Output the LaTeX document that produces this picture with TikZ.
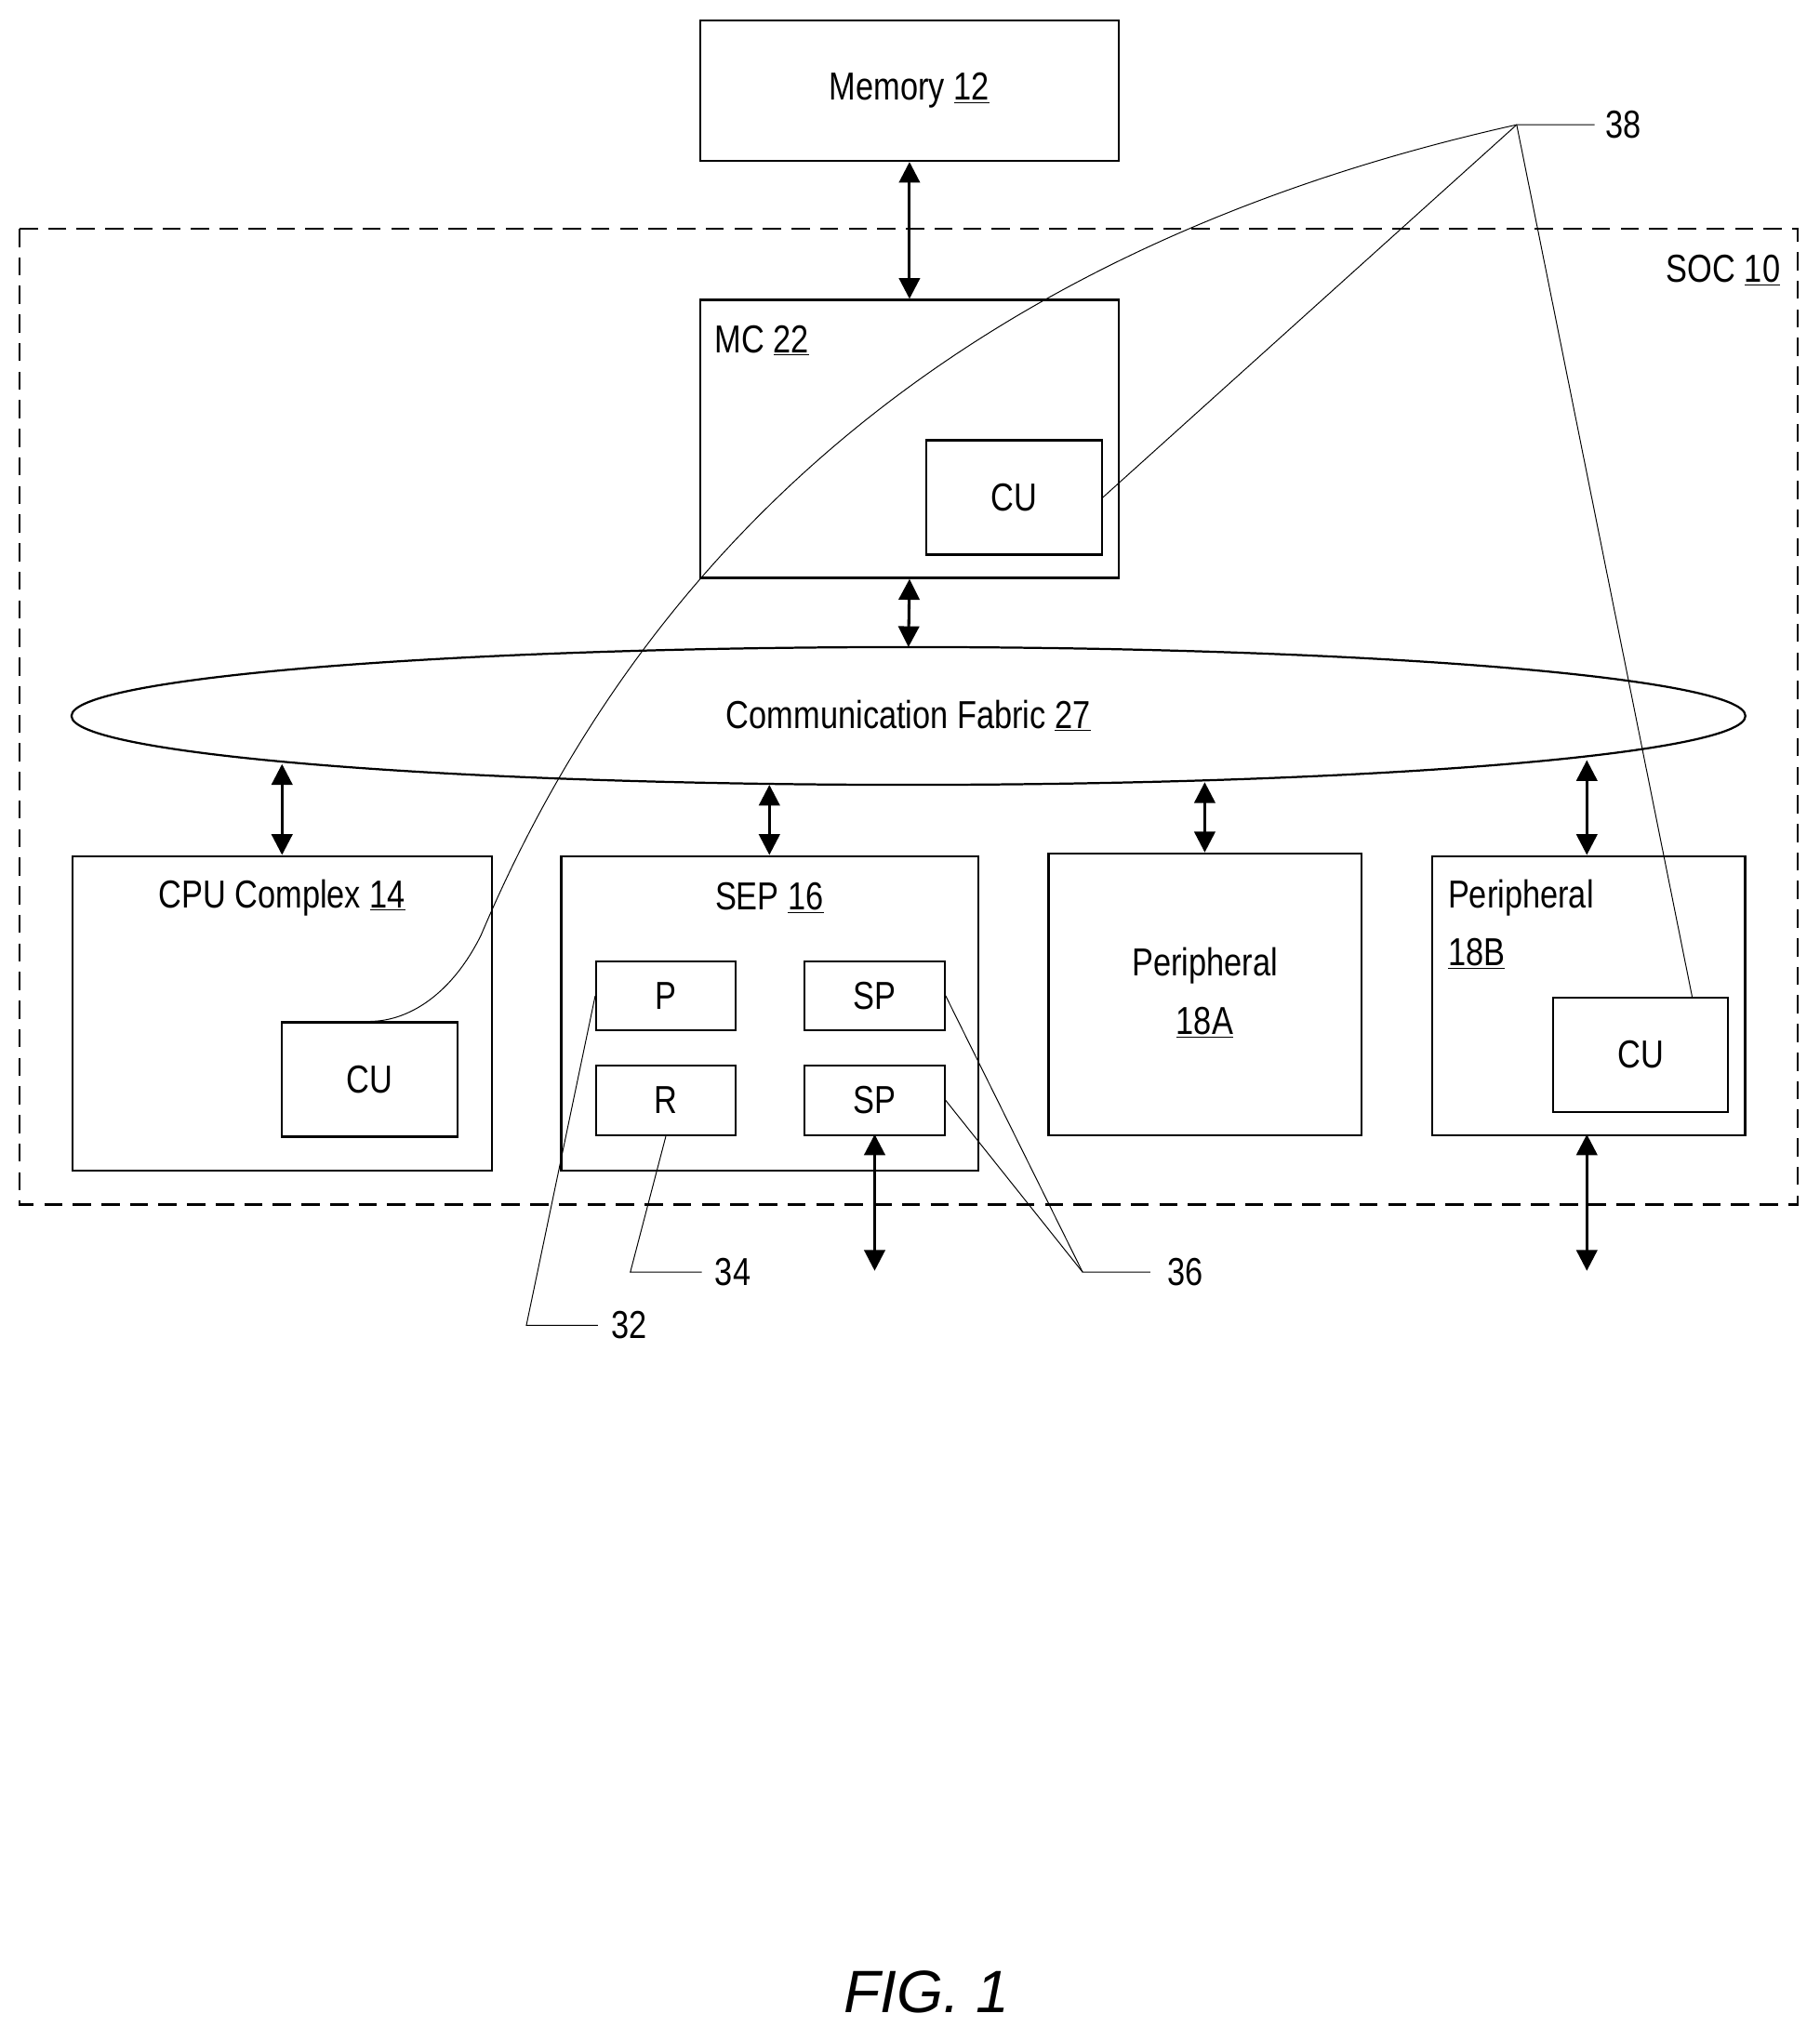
\documentclass[tikz,border=0pt]{standalone}
\usepackage{fontspec}
\setmainfont{Liberation Sans}[FakeStretch=0.82]
\newfontfamily\figfont{Liberation Sans}
\usetikzlibrary{arrows.meta,shapes.geometric}
\begin{document}
\begin{tikzpicture}[x=1pt,y=-1pt,
 box/.style={draw,line width=1.6pt},
 lbl/.style={font=\fontsize{30}{34}\selectfont,inner sep=0pt},
 arr/.style={line width=2.2pt,{Triangle[length=16pt,width=16pt]}-{Triangle[length=16pt,width=16pt]}},
 lead/.style={line width=0.7pt}]
\useasboundingbox (0,0) rectangle (1400,1570);
\draw[line width=1.6pt,dash pattern=on 14pt off 8pt] (15,176) rectangle (1383,927);
\node[lbl,anchor=east] (soc) at (1370,208) {SOC \underline{10}};
\node[box,minimum width=322pt,minimum height=108pt,anchor=north west] (mem) at (538,15) {};
\node[lbl] at (mem) {Memory \underline{12}};
\node[box,minimum width=322pt,minimum height=214pt,anchor=north west] (mc) at (538,230) {};
\node[lbl,anchor=west] at (550,262) {MC \underline{22}};
\node[box,minimum width=135pt,minimum height=88pt,anchor=north west,lbl] (cumc) at (712,338) {CU};
\node[draw,line width=1.6pt,ellipse,minimum width=1288pt,minimum height=106pt,inner sep=0pt] (fab) at (699,551) {};
\node[lbl] at (699,551) {Communication Fabric \underline{27}};
\node[box,minimum width=323pt,minimum height=242pt,anchor=north west] (cpu) at (55,658) {};
\node[lbl] at (217,691) {CPU Complex \underline{14}};
\node[box,minimum width=135pt,minimum height=88pt,anchor=north west,lbl] (cucpu) at (216,786) {CU};
\node[box,minimum width=321pt,minimum height=242pt,anchor=north west] (sep) at (431,658) {};
\node[lbl] at (592,691) {SEP \underline{16}};
\node[box,minimum width=107pt,minimum height=53pt,anchor=north west,lbl] (p) at (458,739) {P};
\node[box,minimum width=108pt,minimum height=53pt,anchor=north west,lbl] (sp1) at (618,739) {SP};
\node[box,minimum width=107pt,minimum height=54pt,anchor=north west,lbl] (r) at (458,819) {R};
\node[box,minimum width=108pt,minimum height=54pt,anchor=north west,lbl] (sp2) at (618,819) {SP};
\node[box,minimum width=241pt,minimum height=217pt,anchor=north west] (pa) at (806,656) {};
\node[lbl] at (927,743) {Peripheral};
\node[lbl] at (927,787) {\underline{18A}};
\node[box,minimum width=241pt,minimum height=215pt,anchor=north west] (pb) at (1101,658) {};
\node[lbl,anchor=west] at (1114,691) {Peripheral};
\node[lbl,anchor=west] at (1114,734) {\underline{18B}};
\node[box,minimum width=135pt,minimum height=88pt,anchor=north west,lbl] (cupb) at (1194,767) {CU};
\draw[arr] (mem.south) -- (mc.north);
\draw[arr] (mc.south) -- (699,498);
\draw[arr] (217,588) -- (217,658);
\draw[arr] (592,604) -- (592,658);
\draw[arr] (927,602) -- (927,656);
\draw[arr] (1221,585) -- (1221,658);
\coordinate (d1) at (673,978); \coordinate (d2) at (1221,978);
\draw[arr] (673,873) -- (d1);
\draw[arr] (1221,873) -- (d2);
\node[lbl,anchor=west] (n38) at (1235,96) {38};
\coordinate (h38) at (1167,96);
\draw[lead] (1227,96) -- (h38) -- (cumc.east);
\draw[lead] (h38) -- (1302,767);
\draw[lead] (h38) .. controls (700,200) and (480,460) .. (370,720) .. controls (345,770) and (310,786) .. (285,786);
\node[lbl,anchor=west] (n32) at (470,1020) {32};
\draw[lead] (460,1020) -- (405,1020) -- (p.west);
\node[lbl,anchor=west] (n34) at (550,979) {34};
\draw[lead] (540,979) -- (485,979) -- (r.south);
\node[lbl,anchor=west] (n36) at (898,979) {36};
\draw[lead] (885,979) -- (833,979) -- (sp1.east);
\draw[lead] (833,979) -- (sp2.east);
\node[font=\figfont\itshape\fontsize{46}{50}\selectfont] (fig) at (713,1533) {FIG. 1};
\end{tikzpicture}
\end{document}
